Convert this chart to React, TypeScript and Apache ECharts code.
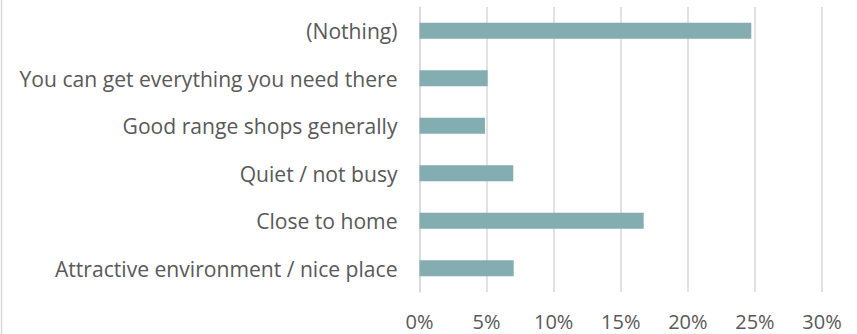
import React, { useEffect, useRef } from "react";
import * as echarts from "echarts";

const categories = [
  "Attractive environment / nice place",
  "Close to home",
  "Quiet / not busy",
  "Good range shops generally",
  "You can get everything you need there",
  "(Nothing)",
];
const values = [0.0702, 0.1671, 0.0699, 0.0488, 0.0508, 0.2473];
const xTicks = { min: 0, max: 0.3, interval: 0.05 };

export default function App() {
  const ref = useRef<HTMLDivElement>(null);
  useEffect(() => {
    if (!ref.current) return;
    const chart = echarts.init(ref.current, undefined, { renderer: "svg" });
    const font = "'Open Sans', sans-serif";
    chart.setOption({
      animation: false,
      backgroundColor: "#ffffff",
      grid: { left: 419.5, right: 35, top: 7, bottom: 42, containLabel: false },
      graphic: [
        {
          type: "line",
          shape: { x1: 1.5, y1: 0, x2: 1.5, y2: 334 },
          style: { stroke: "#d9d9d9", lineWidth: 1.5 },
        },
      ],
      xAxis: {
        type: "value",
        min: xTicks.min,
        max: xTicks.max,
        interval: xTicks.interval,
        axisLine: { show: false },
        axisTick: { show: false },
        splitLine: { show: true, lineStyle: { color: "#d9d9d9", width: 1.5 } },
        axisLabel: {
          color: "#595959",
          fontFamily: font,
          fontSize: 20,
          margin: 19,
          formatter: (v: number) => Math.round(v * 100) + "%",
        },
      },
      yAxis: {
        type: "category",
        data: categories,
        axisLine: { show: true, lineStyle: { color: "#d9d9d9", width: 1.5 } },
        axisTick: { show: false },
        axisLabel: {
          color: "#595959",
          fontFamily: font,
          fontSize: 21.1,
          margin: 22,
        },
      },
      series: [
        {
          type: "bar",
          data: values,
          barWidth: 16,
          itemStyle: { color: "#84adb2" },
        },
      ],
    });
    return () => chart.dispose();
  }, []);
  return (
    <div
      ref={ref}
      style={{ position: "fixed", left: 0, top: 0, width: 857, height: 334 }}
    />
  );
}
